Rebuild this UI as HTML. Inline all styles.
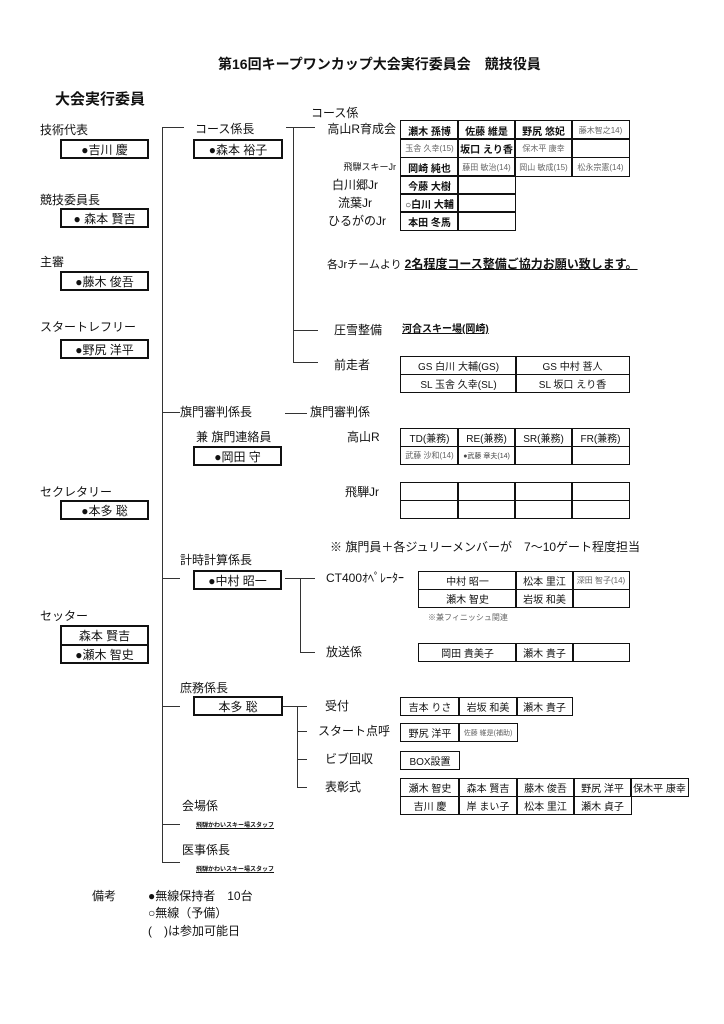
<!DOCTYPE html>
<html><head><meta charset="utf-8"><style>
body{margin:0;width:724px;height:1024px;background:#fff;position:relative;font-family:"Liberation Sans","Noto Sans CJK JP",sans-serif;color:#111;overflow:hidden}
.t{position:absolute;white-space:nowrap;font-size:12px;line-height:14px}
.b{position:absolute;border:2px solid #111;box-sizing:border-box;font-size:12px;display:flex;align-items:center;justify-content:center;white-space:nowrap;background:#fff}
.c{position:absolute;border:1.5px solid #111;box-sizing:border-box;font-size:10px;display:flex;align-items:center;justify-content:center;white-space:nowrap}
.g{color:#666;font-size:8px}
.h{position:absolute;height:1px;background:#333}
.v{position:absolute;width:1px;background:#333}
.bold{font-weight:bold}
</style></head><body>
<div class="t bold" style="left:218px;top:57px;font-size:14px">第16回キープワンカップ大会実行委員会　競技役員</div>
<div class="t bold" style="left:55px;top:93px;font-size:15px">大会実行委員</div>

<div class="t" style="left:40px;top:123px">技術代表</div>
<div class="b" style="left:60px;top:139px;width:89px;height:20px">●吉川 慶</div>
<div class="t" style="left:40px;top:193px">競技委員長</div>
<div class="b" style="left:60px;top:208px;width:89px;height:20px">● 森本 賢吉</div>
<div class="t" style="left:40px;top:255px">主審</div>
<div class="b" style="left:60px;top:271px;width:89px;height:20px">●藤木 俊吾</div>
<div class="t" style="left:40px;top:320px">スタートレフリー</div>
<div class="b" style="left:60px;top:339px;width:89px;height:20px">●野尻 洋平</div>
<div class="t" style="left:40px;top:485px">セクレタリー</div>
<div class="b" style="left:60px;top:500px;width:89px;height:20px">●本多 聡</div>
<div class="t" style="left:40px;top:609px">セッター</div>
<div class="b" style="left:60px;top:625px;width:89px;height:21px">森本 賢吉</div>
<div class="b" style="left:60px;top:644px;width:89px;height:20px">●瀬木 智史</div>

<div class="v" style="left:162px;top:127px;height:736px"></div>
<div class="h" style="left:162px;top:127px;width:22px"></div>
<div class="h" style="left:162px;top:412px;width:18px"></div>
<div class="h" style="left:162px;top:578px;width:18px"></div>
<div class="h" style="left:162px;top:706px;width:18px"></div>
<div class="h" style="left:162px;top:824px;width:18px"></div>
<div class="h" style="left:162px;top:862px;width:18px"></div>

<div class="t" style="left:195px;top:122px">コース係長</div>
<div class="b" style="left:193px;top:139px;width:90px;height:20px">●森本 裕子</div>
<div class="h" style="left:286px;top:127px;width:29px"></div>
<div class="v" style="left:293px;top:127px;height:236px"></div>
<div class="h" style="left:293px;top:330px;width:25px"></div>
<div class="h" style="left:293px;top:362px;width:25px"></div>
<div class="t" style="left:311px;top:106px">コース係</div>

<div class="t" style="left:318px;top:122px;width:78px;text-align:right">高山R育成会</div>
<div class="t" style="left:318px;top:160px;width:78px;text-align:right;font-size:9px">飛騨スキーJr</div>
<div class="t" style="left:318px;top:178px;width:74px;text-align:center">白川郷Jr</div>
<div class="t" style="left:318px;top:196px;width:74px;text-align:center">流葉Jr</div>
<div class="t" style="left:318px;top:214px;width:78px;text-align:center">ひるがのJr</div>

<div class="c bold" style="left:400px;top:120px;width:59px;height:20px">瀬木 孫博</div>
<div class="c bold" style="left:457px;top:120px;width:59px;height:20px">佐藤 維是</div>
<div class="c bold" style="left:514px;top:120px;width:59px;height:20px">野尻 悠妃</div>
<div class="c g" style="left:571px;top:120px;width:59px;height:20px">藤木智之14)</div>
<div class="c g" style="left:400px;top:138px;width:59px;height:20px">玉舎 久幸(15)</div>
<div class="c bold" style="left:457px;top:138px;width:59px;height:20px">坂口 えり香</div>
<div class="c g" style="left:514px;top:138px;width:59px;height:20px">保木平 康幸</div>
<div class="c" style="left:571px;top:138px;width:59px;height:20px"></div>
<div class="c bold" style="left:400px;top:157px;width:59px;height:20px">岡崎 純也</div>
<div class="c g" style="left:457px;top:157px;width:59px;height:20px">藤田 敏治(14)</div>
<div class="c g" style="left:514px;top:157px;width:59px;height:20px">岡山 敏成(15)</div>
<div class="c g" style="left:571px;top:157px;width:59px;height:20px">松永宗憲(14)</div>
<div class="c bold" style="left:400px;top:175px;width:59px;height:20px">今藤 大樹</div>
<div class="c" style="left:457px;top:175px;width:59px;height:20px"></div>
<div class="c bold" style="left:400px;top:193px;width:59px;height:20px">○白川 大輔</div>
<div class="c" style="left:457px;top:193px;width:59px;height:20px"></div>
<div class="c bold" style="left:400px;top:211px;width:59px;height:20px">本田 冬馬</div>
<div class="c" style="left:457px;top:211px;width:59px;height:20px"></div>

<div class="t" style="left:327px;top:257px;font-size:11px">各Jrチームより <u style="font-weight:bold;font-size:12px">2名程度コース整備ご協力お願い致します。</u></div>
<div class="t" style="left:334px;top:323px">圧雪整備</div>
<div class="t bold" style="left:402px;top:323px;text-decoration:underline;font-size:10px">河合スキー場(岡崎)</div>
<div class="t" style="left:334px;top:358px">前走者</div>
<div class="c" style="left:400px;top:356px;width:117px;height:19px">GS 白川 大輔(GS)</div>
<div class="c" style="left:515px;top:356px;width:115px;height:19px">GS 中村 菩人</div>
<div class="c" style="left:400px;top:374px;width:117px;height:19px">SL 玉舎 久幸(SL)</div>
<div class="c" style="left:515px;top:374px;width:115px;height:19px">SL 坂口 えり香</div>

<div class="t" style="left:180px;top:405px">旗門審判係長</div>
<div class="h" style="left:285px;top:413px;width:22px"></div>
<div class="t" style="left:310px;top:405px">旗門審判係</div>
<div class="t" style="left:196px;top:430px">兼 旗門連絡員</div>
<div class="b" style="left:193px;top:446px;width:89px;height:20px">●岡田 守</div>
<div class="t" style="left:347px;top:430px">高山R</div>
<div class="c" style="left:400px;top:428px;width:59px;height:19px">TD(兼務)</div>
<div class="c" style="left:457px;top:428px;width:59px;height:19px">RE(兼務)</div>
<div class="c" style="left:514px;top:428px;width:59px;height:19px">SR(兼務)</div>
<div class="c" style="left:571px;top:428px;width:59px;height:19px">FR(兼務)</div>
<div class="c g" style="left:400px;top:446px;width:59px;height:19px">武藤 沙和(14)</div>
<div class="c g" style="left:457px;top:446px;width:59px;height:19px;font-size:7px;color:#444">●武藤 章夫(14)</div>
<div class="c" style="left:514px;top:446px;width:59px;height:19px"></div>
<div class="c" style="left:571px;top:446px;width:59px;height:19px"></div>
<div class="t" style="left:345px;top:485px">飛騨Jr</div>
<div class="c" style="left:400px;top:482px;width:59px;height:19px"></div>
<div class="c" style="left:457px;top:482px;width:59px;height:19px"></div>
<div class="c" style="left:514px;top:482px;width:59px;height:19px"></div>
<div class="c" style="left:571px;top:482px;width:59px;height:19px"></div>
<div class="c" style="left:400px;top:500px;width:59px;height:19px"></div>
<div class="c" style="left:457px;top:500px;width:59px;height:19px"></div>
<div class="c" style="left:514px;top:500px;width:59px;height:19px"></div>
<div class="c" style="left:571px;top:500px;width:59px;height:19px"></div>
<div class="t" style="left:330px;top:540px">※ 旗門員＋各ジュリーメンバーが　7～10ゲート程度担当</div>

<div class="t" style="left:180px;top:553px">計時計算係長</div>
<div class="b" style="left:193px;top:570px;width:89px;height:20px">●中村 昭一</div>
<div class="h" style="left:285px;top:578px;width:30px"></div>
<div class="v" style="left:300px;top:578px;height:75px"></div>
<div class="h" style="left:300px;top:652px;width:15px"></div>
<div class="t" style="left:326px;top:571px">CT400ｵﾍﾟﾚｰﾀｰ</div>
<div class="c" style="left:418px;top:571px;width:99px;height:19px">中村 昭一</div>
<div class="c" style="left:515px;top:571px;width:59px;height:19px">松本 里江</div>
<div class="c g" style="left:572px;top:571px;width:58px;height:19px">深田 智子(14)</div>
<div class="c" style="left:418px;top:589px;width:99px;height:19px">瀬木 智史</div>
<div class="c" style="left:515px;top:589px;width:59px;height:19px">岩坂 和美</div>
<div class="c" style="left:572px;top:589px;width:58px;height:19px"></div>
<div class="t" style="left:428px;top:611px;font-size:8px;color:#666">※兼フィニッシュ関連</div>
<div class="t" style="left:326px;top:645px">放送係</div>
<div class="c" style="left:418px;top:643px;width:99px;height:19px">岡田 貴美子</div>
<div class="c" style="left:515px;top:643px;width:59px;height:19px">瀬木 貴子</div>
<div class="c" style="left:572px;top:643px;width:58px;height:19px"></div>

<div class="t" style="left:180px;top:681px">庶務係長</div>
<div class="b" style="left:193px;top:696px;width:90px;height:20px">本多 聡</div>
<div class="h" style="left:283px;top:706px;width:24px"></div>
<div class="v" style="left:297px;top:706px;height:82px"></div>
<div class="h" style="left:297px;top:731px;width:10px"></div>
<div class="h" style="left:297px;top:759px;width:10px"></div>
<div class="h" style="left:297px;top:787px;width:10px"></div>
<div class="t" style="left:325px;top:699px">受付</div>
<div class="t" style="left:318px;top:724px">スタート点呼</div>
<div class="t" style="left:325px;top:752px">ビブ回収</div>
<div class="t" style="left:325px;top:780px">表彰式</div>
<div class="c" style="left:400px;top:697px;width:60px;height:19px">吉本 りさ</div>
<div class="c" style="left:458px;top:697px;width:60px;height:19px">岩坂 和美</div>
<div class="c" style="left:516px;top:697px;width:57px;height:19px">瀬木 貴子</div>
<div class="c" style="left:400px;top:723px;width:60px;height:19px">野尻 洋平</div>
<div class="c g" style="left:458px;top:723px;width:60px;height:19px;font-size:7px">佐藤 維是(補助)</div>
<div class="c" style="left:400px;top:751px;width:60px;height:19px">BOX設置</div>
<div class="c" style="left:400px;top:778px;width:60px;height:19px">瀬木 智史</div>
<div class="c" style="left:458px;top:778px;width:60px;height:19px">森本 賢吉</div>
<div class="c" style="left:516px;top:778px;width:59px;height:19px">藤木 俊吾</div>
<div class="c" style="left:573px;top:778px;width:59px;height:19px">野尻 洋平</div>
<div class="c" style="left:630px;top:778px;width:59px;height:19px">保木平 康幸</div>
<div class="c" style="left:400px;top:796px;width:60px;height:19px">吉川 慶</div>
<div class="c" style="left:458px;top:796px;width:60px;height:19px">岸 まい子</div>
<div class="c" style="left:516px;top:796px;width:59px;height:19px">松本 里江</div>
<div class="c" style="left:573px;top:796px;width:59px;height:19px">瀬木 貞子</div>

<div class="t" style="left:182px;top:799px">会場係</div>
<div class="t bold" style="left:196px;top:819px;font-size:6px;text-decoration:underline">飛騨かわいスキー場スタッフ</div>
<div class="t" style="left:182px;top:843px">医事係長</div>
<div class="t bold" style="left:196px;top:863px;font-size:6px;text-decoration:underline">飛騨かわいスキー場スタッフ</div>

<div class="t" style="left:92px;top:889px">備考</div>
<div class="t" style="left:148px;top:889px">●無線保持者　10台</div>
<div class="t" style="left:148px;top:906px">○無線（予備）</div>
<div class="t" style="left:148px;top:924px">(　)は参加可能日</div>
</body></html>
